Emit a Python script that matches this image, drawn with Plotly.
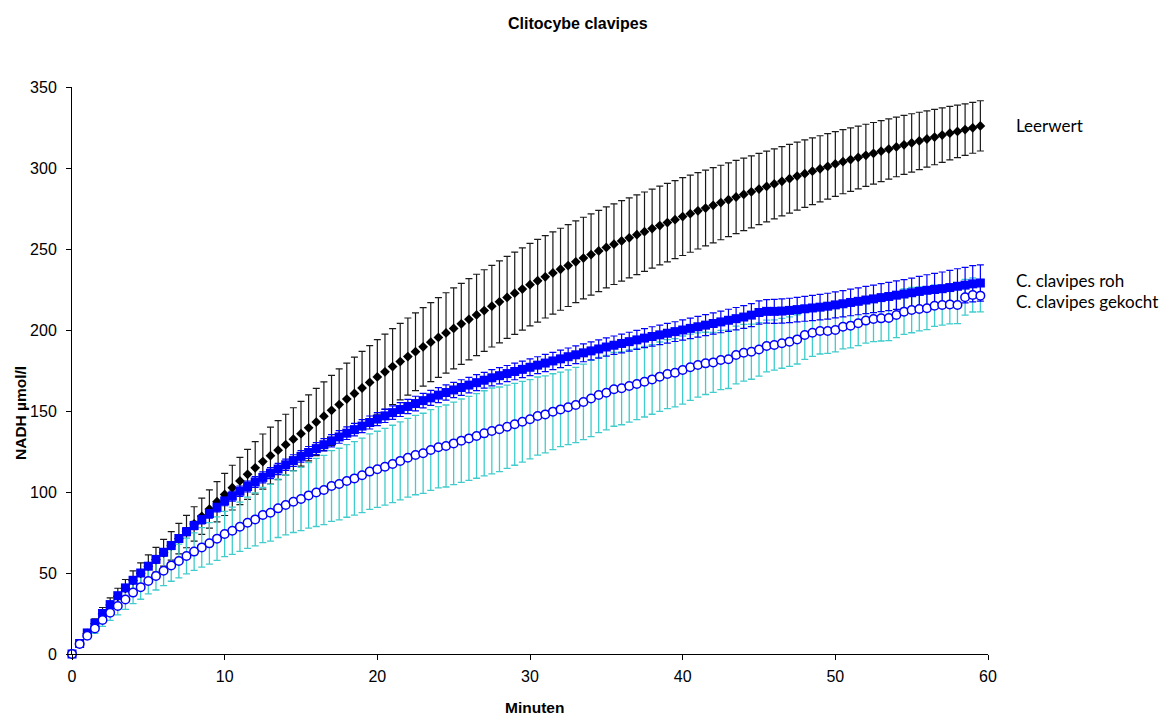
import plotly.graph_objects as go

# Sampling times (minutes), one reading every 30 s
minuten = [i * 0.5 for i in range(120)]

leerwert = [
    0, 6.3, 12.7, 18.7, 24.7, 30.2, 35.6, 40.5, 45.3, 49.8, 54.2,
    58.2, 62.5, 66.8, 71.2, 75.6,
    80.3, 85, 89.5, 94, 98.5,
    102.7, 106.8, 110.9, 114.9, 118.8,
    122.4, 125.8, 129.2, 132.6, 136,
    139.6, 143.2, 146.8, 150.4, 154,
    157.4, 160.8, 164.2, 167.6, 171,
    174.2, 177.4, 180.5, 183.6, 186.6, 189.6, 192.5, 195.4, 198.2, 201,
    203.8, 206.6, 209.3, 212, 214.7, 217.4, 220.1, 222.7, 225.3, 228,
    230.4, 232.8, 235.2, 237.5, 239.8, 242.1, 244.4, 246.6, 248.8, 251,
    253, 255, 256.9, 258.8, 260.7, 262.6, 264.5, 266.3, 268.1, 270,
    271.8, 273.6, 275.3, 277, 278.7, 280.4, 282.1, 283.7, 285.3, 287,
    288.6, 290.2, 291.8, 293.4, 295, 296.5, 298, 299.5, 301, 302.5,
    303.9, 305.2, 306.5, 307.8, 309.1, 310.4, 311.7, 313, 314.3, 315.5,
    316.7, 317.9, 319.1, 320.3, 321.5, 322.6, 323.7, 324.8, 326,
]
leerwert_err = [
    0, 1, 2, 3, 4, 4.5, 5, 5.5, 6, 6.5, 7,
    7.6, 8.2, 8.8, 9.4, 10,
    10.6, 11.2, 11.8, 12.4, 13,
    13.8, 14.6, 15.4, 16.2, 17,
    17.6, 18.2, 18.8, 19.4, 20,
    20.4, 20.8, 21.2, 21.6, 22,
    22.2, 22.4, 22.6, 22.8, 23,
    23.2, 23.4, 23.6, 23.8, 24, 24.2, 24.4, 24.6, 24.8, 25,
    25, 25.1, 25.1, 25.2, 25.2, 25.3, 25.3, 25.4, 25.4, 25.5,
    25.5, 25.4, 25.4, 25.3, 25.3, 25.2, 25.2, 25.1, 25.1, 25,
    24.9, 24.8, 24.7, 24.6, 24.5, 24.4, 24.3, 24.2, 24.1, 24,
    23.8, 23.6, 23.4, 23.2, 23, 22.8, 22.6, 22.4, 22.2, 22,
    21.8, 21.6, 21.4, 21.2, 21, 20.8, 20.6, 20.4, 20.2, 20,
    19.8, 19.6, 19.4, 19.2, 19, 18.8, 18.6, 18.4, 18.2, 18,
    17.7, 17.4, 17.1, 16.8, 16.5, 16.2, 15.9, 15.7, 15.5,
]

roh = [
    0, 6.5, 13, 19, 25, 30.5, 36, 40.8, 45.5, 50, 54.2,
    58.4, 62.8, 67, 71.3, 75.5,
    79.3, 83, 86.7, 90.6, 94.5,
    97.5, 100.5, 103.4, 106.2, 109,
    111.6, 114.2, 116.8, 119.4, 122,
    124.4, 126.8, 129.2, 131.6, 134,
    136.3, 138.5, 140.7, 142.9, 145,
    147, 149, 150.9, 152.8, 154.6, 156.4, 158.1, 159.8, 161.4, 163,
    164.5, 166, 167.5, 169, 170.5, 171.8, 173.1, 174.4, 175.7, 177,
    178.3, 179.6, 180.9, 182.2, 183.5, 184.7, 185.9, 187.1, 188.3, 189.5,
    190.6, 191.7, 192.8, 193.9, 195, 196, 197, 198, 199, 200,
    201, 202, 203, 204, 205, 206, 207, 208, 209.2, 210.8,
    211.5, 211.5, 211.7, 212.1, 212.6, 213.1, 213.6, 214.1, 214.7, 215.5,
    216.2, 217, 217.7, 218.5, 219.2, 220, 220.7, 221.5, 222.2, 223,
    223.8, 224.5, 225, 225.5, 226.2, 227, 227.7, 228.5, 229,
]
roh_err = [
    0, 0.5, 1, 1.2, 1.4, 1.6, 1.7, 1.8, 1.9, 2, 2,
    2.1, 2.2, 2.3, 2.4, 2.5,
    2.6, 2.7, 2.8, 2.9, 3,
    3.1, 3.2, 3.3, 3.3, 3.4,
    3.4, 3.5, 3.5, 3.6, 3.6,
    3.7, 3.7, 3.8, 3.8, 3.9,
    3.9, 3.9, 4, 4, 4,
    4.1, 4.2, 4.3, 4.4, 4.5, 4.5, 4.6, 4.6, 4.7, 4.7,
    4.8, 4.8, 4.9, 4.9, 5, 5, 5, 5.1, 5.1, 5.2,
    5.2, 5.3, 5.3, 5.4, 5.4, 5.5, 5.5, 5.6, 5.6, 5.7,
    5.7, 5.8, 5.8, 5.9, 5.9, 6, 6, 6.1, 6.1, 6.2,
    6.3, 6.4, 6.5, 6.6, 6.7, 6.8, 6.9, 7, 7.1, 7.2,
    7.3, 7.4, 7.5, 7.5, 7.6, 7.7, 7.8, 7.9, 8, 8,
    8.1, 8.2, 8.3, 8.4, 8.5, 8.6, 8.7, 8.8, 8.9, 9,
    9.3, 9.6, 10, 10.3, 10.6, 10.8, 11, 11.2, 11.2,
]

gekocht = [
    0, 6.2, 11.3, 15.8, 21, 25.5, 29.6, 33.7, 37.9, 41.2, 45.1,
    48.1, 51.4, 54.7, 57.4, 60.5,
    63.2, 65.8, 68.3, 71.2, 74.1,
    76.1, 78.6, 81, 83.1, 85.8,
    87.2, 89.9, 92, 94, 95.7,
    97.9, 99.7, 101.2, 103.7, 104.9,
    106.8, 108.4, 110.3, 112.6, 114,
    115.6, 117.3, 119.2, 121.1, 122.8, 123.9, 125.9, 127.6, 128.4, 130,
    131.7, 133.1, 134.6, 136.2, 137.7, 138.7, 140.3, 141.8, 143.4, 144.9,
    146.9, 147.9, 149.6, 151, 152.3, 153.7, 155.6, 157.7, 159.9, 161.3,
    163.4, 164, 165.4, 166.7, 168.1, 169.5, 171.2, 172.8, 173.6, 175.3,
    177, 178.4, 179.4, 180, 181.5, 181.9, 184.6, 186, 186.6, 188,
    190.1, 190.7, 191.8, 192.8, 194.2, 196.9, 198.3, 199.4, 199.4, 200,
    202, 202.7, 204.2, 205.8, 206.8, 207.2, 207.4, 209.3, 211.3, 212.3,
    213, 213.4, 215, 215.4, 215.8, 215.4, 220.2, 221.6, 221.2,
]
gekocht_err = [
    0, 1, 2, 3, 4, 4.8, 5.5, 6.2, 6.8, 7.4, 8,
    8.6, 9.2, 9.8, 10.4, 11,
    11.6, 12.2, 12.8, 13.4, 14,
    14.6, 15.2, 15.8, 16.4, 17,
    17.5, 18, 18.5, 19, 19.5,
    20.2, 21, 21.4, 21.8, 22.1,
    22.4, 22.7, 23, 23.3, 23.5,
    23.7, 23.9, 24.1, 24.3, 24.5, 24.7, 24.9, 25.1, 25.3, 25.5,
    25.7, 25.9, 26.1, 26.3, 26.5, 26.1, 25.7, 25.3, 24.9, 24.5,
    24.1, 23.8, 23.4, 23, 23.1, 23.2, 23.3, 23.5, 23.2, 23,
    22.8, 22.5, 22.3, 22, 21.8, 21.5, 21.4, 21.3, 21.1, 21,
    20.4, 19.8, 19.2, 18.5, 18.3, 18, 17.8, 17.5, 17, 16.5,
    16, 15.5, 15.4, 15.3, 15.2, 15, 14.6, 14.2, 13.8, 13.5,
    13.6, 13.7, 13.8, 13.9, 14, 14, 14, 14, 14, 14,
    13.6, 13.2, 12.8, 12.4, 12, 11.5, 11, 10.5, 10,
]

for _name, _arr in [("leerwert", leerwert), ("leerwert_err", leerwert_err), ("roh", roh),
                    ("roh_err", roh_err), ("gekocht", gekocht), ("gekocht_err", gekocht_err)]:
    if len(_arr) != len(minuten):
        raise ValueError(f"{_name} has {len(_arr)} values")

x_ticks = [0, 10, 20, 30, 40, 50, 60]
y_ticks = [0, 50, 100, 150, 200, 250, 300, 350]

title_text = "Clitocybe clavipes"
x_title = "Minuten"
y_title = "NADH µmol/l"
series_labels = ["Leerwert", "C. clavipes roh", "C. clavipes gekocht"]

BLUE = "#0000FF"
CYAN = "#40CCCC"

fig = go.Figure()

def err_trace(y, err, color, thick, width):
    return go.Scatter(
        x=minuten, y=y, mode="markers",
        marker=dict(size=1, color="rgba(0,0,0,0)"),
        error_y=dict(type="data", array=err, symmetric=True, color=color,
                     thickness=thick, width=width),
        hoverinfo="skip", showlegend=False, cliponaxis=False,
    )

# error bars first (underneath all markers)
fig.add_trace(err_trace(leerwert, leerwert_err, "#1a1a1a", 1.2, 3.5))
fig.add_trace(err_trace(gekocht, gekocht_err, CYAN, 1.3, 3.5))
fig.add_trace(err_trace(roh, roh_err, BLUE, 1.2, 3.5))

fig.add_trace(go.Scatter(
    x=minuten, y=leerwert, mode="markers", name=series_labels[0],
    marker=dict(symbol="diamond", size=7.5, color="black", line=dict(width=0)),
    showlegend=False, cliponaxis=False,
))
fig.add_trace(go.Scatter(
    x=minuten, y=roh, mode="markers", name=series_labels[1],
    marker=dict(symbol="square", size=9, color=BLUE, line=dict(width=0)),
    showlegend=False, cliponaxis=False,
))
fig.add_trace(go.Scatter(
    x=minuten, y=gekocht, mode="markers", name=series_labels[2],
    marker=dict(symbol="circle", size=8.5, color="white", line=dict(width=1.5, color=BLUE)),
    showlegend=False, cliponaxis=False,
))

L, R, T, B = 72, 988, 87, 654
W, H = 1163, 716

def px(xp):
    return (xp - L) / (R - L)

def py(yp):
    return (B - yp) / (B - T)

axis_font = dict(family="Liberation Sans, Arial, sans-serif", size=16, color="black")
title_font = dict(family="Liberation Sans, Arial, sans-serif", size=15.5, color="black")
label_font = dict(family="Lato, Open Sans, sans-serif", size=17, color="black")

annotations = [
    dict(text="<b>%s</b>" % title_text, x=px(578), y=py(23), xref="paper", yref="paper",
         showarrow=False, xanchor="center", yanchor="middle",
         font=dict(family="Liberation Sans, Arial, sans-serif", size=16, color="black")),
    dict(text="<b>%s</b>" % x_title, x=px(534), y=py(707), xref="paper", yref="paper",
         showarrow=False, xanchor="center", yanchor="middle", font=title_font),
    dict(text="<b>%s</b>" % y_title, x=px(20), y=py(413), xref="paper", yref="paper",
         showarrow=False, xanchor="center", yanchor="middle", textangle=-90, font=title_font),
    dict(text=series_labels[0], x=px(1014), y=py(125), xref="paper", yref="paper",
         showarrow=False, xanchor="left", yanchor="middle", font=label_font),
    dict(text=series_labels[1], x=px(1014), y=py(280), xref="paper", yref="paper",
         showarrow=False, xanchor="left", yanchor="middle", font=label_font),
    dict(text=series_labels[2], x=px(1014), y=py(301), xref="paper", yref="paper",
         showarrow=False, xanchor="left", yanchor="middle", font=label_font),
]

fig.update_layout(
    width=W, height=H,
    margin=dict(l=L, r=W - R, t=T, b=H - B),
    paper_bgcolor="white", plot_bgcolor="white",
    showlegend=False,
    annotations=annotations,
    xaxis=dict(range=[0, 60], tickvals=x_ticks, ticks="outside", ticklen=5, tickcolor="black",
               showline=True, linecolor="black", linewidth=1, showgrid=False, zeroline=False,
               tickfont=axis_font, ticklabelstandoff=3),
    yaxis=dict(range=[0, 350], tickvals=y_ticks, ticks="outside", ticklen=5, tickcolor="black",
               showline=True, linecolor="black", linewidth=1, showgrid=False, zeroline=False,
               tickfont=axis_font, ticklabelstandoff=6),
)

fig.write_html("out.html")
